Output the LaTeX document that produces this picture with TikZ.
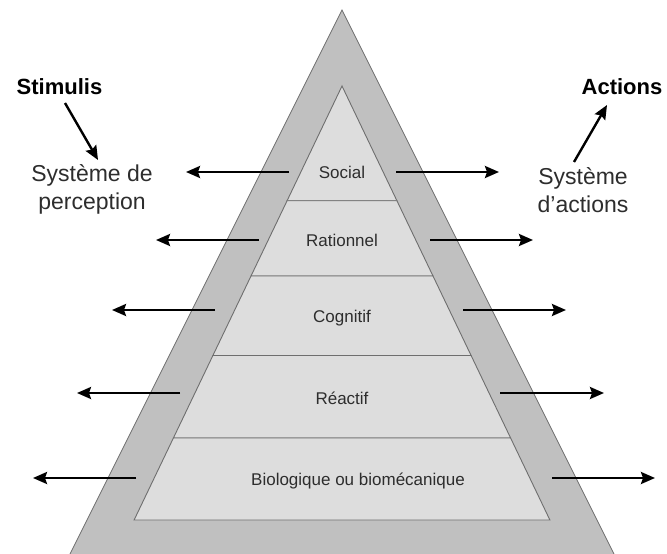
\documentclass[tikz,border=0pt]{standalone}
\usepackage{fontspec}
\setmainfont{Liberation Sans}
\usetikzlibrary{arrows.meta}
\definecolor{bandgray}{RGB}{192,192,192}
\definecolor{layergray}{RGB}{221,221,221}
\definecolor{edgegray}{RGB}{110,110,110}
\definecolor{txtgray}{RGB}{45,45,45}
\tikzset{
  band/.style={fill=bandgray, draw=edgegray, line width=0.7pt, line join=miter},
  layer/.style={fill=layergray, draw=edgegray, line width=0.9pt},
  lbl/.style={font=\fontsize{17}{20}\selectfont, text=txtgray, inner sep=0pt},
  sidetxt/.style={font=\fontsize{23}{28}\selectfont, text=txtgray, align=center, inner sep=0pt},
  headtxt/.style={font=\fontsize{22}{26}\selectfont\bfseries, text=black, inner sep=0pt},
  flow/.style={draw=black, line width=2.4pt, -{Stealth[length=14pt,width=12pt,inset=2pt]}},
}
\begin{document}
\begin{tikzpicture}[x=1pt,y=-1pt]
\useasboundingbox (0,0) rectangle (667,554);
\fill[white] (0,0) rectangle (667,554);
% outer band
\path[band] (70,554) -- (342,10) -- (614,554);
% inner layers
\path[layer] (342,86) -- (396.9,200.7) -- (287.1,200.7) -- cycle;
\path[layer] (287.1,200.7) -- (396.9,200.7) -- (433.0,276) -- (251.0,276) -- cycle;
\path[layer] (251.0,276) -- (433.0,276) -- (471.1,355.5) -- (212.9,355.5) -- cycle;
\path[layer] (212.9,355.5) -- (471.1,355.5) -- (510.6,438) -- (173.4,438) -- cycle;
\path[layer] (173.4,438) -- (510.6,438) -- (549.9,520) -- (134.1,520) -- cycle;
% labels
\node[lbl] (social) at (342,172) {Social};
\node[lbl] (ration) at (342,240) {Rationnel};
\node[lbl] (cogn) at (342,318) {Cognitif};
\node[lbl] (react) at (342,398) {Réactif};
\node[lbl] (bio) at (358,481) {Biologique ou biomécanique};
% side texts
\node[headtxt] (stim) at (59.5,87) {Stimulis};
\node[headtxt] (act) at (622,87) {Actions};
\node[sidetxt] (perc) at (92,189) {Système de\\perception};
\node[sidetxt] (sact) at (583,190) {Système\\d’actions};
% arrow endpoints
\coordinate (s1) at (65,103); \coordinate (s2) at (98,160);
\coordinate (a1) at (574,162); \coordinate (a2) at (607,105);
\draw[flow] (s1) -- (s2);
\draw[flow] (a1) -- (a2);
% left arrows
\coordinate (l1a) at (289,172); \coordinate (l1b) at (186,172);
\coordinate (l2a) at (259,240); \coordinate (l2b) at (156,240);
\coordinate (l3a) at (215,310); \coordinate (l3b) at (112,310);
\coordinate (l4a) at (180,393); \coordinate (l4b) at (77,393);
\coordinate (l5a) at (136,478); \coordinate (l5b) at (33,478);
\draw[flow] (l1a) -- (l1b);
\draw[flow] (l2a) -- (l2b);
\draw[flow] (l3a) -- (l3b);
\draw[flow] (l4a) -- (l4b);
\draw[flow] (l5a) -- (l5b);
% right arrows
\coordinate (r1a) at (396,172); \coordinate (r1b) at (499,172);
\coordinate (r2a) at (430,240); \coordinate (r2b) at (533,240);
\coordinate (r3a) at (463,310); \coordinate (r3b) at (566,310);
\coordinate (r4a) at (500,393); \coordinate (r4b) at (604,393);
\coordinate (r5a) at (552,478); \coordinate (r5b) at (655,478);
\draw[flow] (r1a) -- (r1b);
\draw[flow] (r2a) -- (r2b);
\draw[flow] (r3a) -- (r3b);
\draw[flow] (r4a) -- (r4b);
\draw[flow] (r5a) -- (r5b);
\end{tikzpicture}
\end{document}
